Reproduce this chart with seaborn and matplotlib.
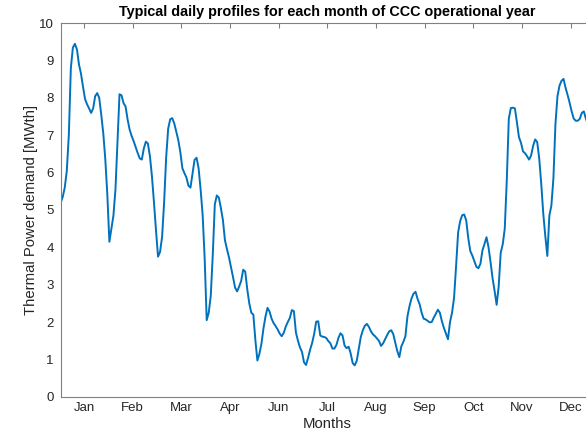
import numpy as np
import seaborn as sns
import matplotlib.pyplot as plt

# hourly thermal demand [MWth], one typical day per month
jan = [5.2, 5.35, 5.6, 6.05, 7.0, 8.8, 9.35, 9.45, 9.3, 8.9, 8.65, 8.3,
       7.97, 7.83, 7.72, 7.6, 7.72, 8.05, 8.13, 8.0, 7.55, 7.05, 6.35, 5.4]
feb = [4.15, 4.5, 4.85, 5.55, 6.8, 8.1, 8.07, 7.86, 7.77, 7.42, 7.15, 6.98,
       6.84, 6.68, 6.52, 6.38, 6.35, 6.65, 6.83, 6.78, 6.44, 5.9, 5.2, 4.45]
mar = [3.75, 3.88, 4.28, 5.2, 6.4, 7.18, 7.43, 7.46, 7.32, 7.1, 6.87, 6.55,
       6.12, 5.99, 5.87, 5.65, 5.6, 5.98, 6.34, 6.4, 6.12, 5.55, 4.87, 3.7]
apr = [2.05, 2.25, 2.7, 3.8, 5.15, 5.39, 5.33, 5.05, 4.73, 4.19, 3.95, 3.73,
       3.47, 3.2, 2.92, 2.82, 2.95, 3.1, 3.4, 3.35, 2.88, 2.5, 2.25, 2.2]
may = [1.52, 0.97, 1.15, 1.42, 1.83, 2.15, 2.38, 2.28, 2.09, 1.97, 1.89, 1.8,
       1.69, 1.62, 1.71, 1.88, 2.0, 2.11, 2.32, 2.29, 1.72, 1.5, 1.32, 1.2]
jun = [0.92, 0.85, 1.04, 1.26, 1.44, 1.68, 2.01, 2.02, 1.64, 1.61, 1.6, 1.57,
       1.49, 1.43, 1.29, 1.29, 1.39, 1.58, 1.7, 1.64, 1.37, 1.3, 1.34, 1.16]
jul = [0.9, 0.84, 0.96, 1.28, 1.6, 1.78, 1.9, 1.95, 1.87, 1.75, 1.67, 1.62,
       1.56, 1.49, 1.36, 1.43, 1.54, 1.65, 1.75, 1.78, 1.68, 1.45, 1.22, 1.06]
aug = [1.35, 1.47, 1.62, 2.15, 2.42, 2.63, 2.76, 2.81, 2.62, 2.48, 2.25, 2.09,
       2.07, 2.03, 1.99, 2.0, 2.12, 2.22, 2.33, 2.25, 2.02, 1.84, 1.69, 1.54]
sep = [2.0, 2.25, 2.65, 3.5, 4.4, 4.7, 4.86, 4.88, 4.72, 4.25, 3.9, 3.78,
       3.63, 3.48, 3.44, 3.56, 3.92, 4.09, 4.27, 4.0, 3.6, 3.17, 2.83, 2.46]
oct_ = [2.95, 3.85, 4.08, 4.5, 5.8, 7.45, 7.73, 7.74, 7.72, 7.35, 6.95, 6.8,
        6.57, 6.52, 6.44, 6.35, 6.46, 6.72, 6.89, 6.82, 6.38, 5.7, 4.9, 4.3]
nov = [3.77, 4.85, 5.12, 5.85, 7.3, 8.05, 8.33, 8.46, 8.51, 8.27, 8.08, 7.87,
       7.64, 7.45, 7.39, 7.39, 7.44, 7.6, 7.64, 7.45, 7.3]

month_labels = ["Jan", "Feb", "Mar", "Apr", "Jun", "Jul", "Aug", "Sep", "Oct", "Nov", "Dec"]

demand = jan + feb + mar + apr + may + jun + jul + aug + sep + oct_ + nov
hours = np.arange(len(demand))

sns.set_style("white")
plt.rcParams["font.family"] = ["Liberation Sans", "DejaVu Sans"]

fig = plt.figure(figsize=(5.86, 4.36), dpi=100)
ax = fig.add_axes([0.1036, 0.0901, 0.910, 0.8565])

sns.lineplot(x=hours, y=demand, color="#0072BD", linewidth=1.4, ax=ax)

ax.set_xlim(0, 263)
ax.set_ylim(0, 10)
ax.set_xticks(11.5 + 24 * np.arange(len(month_labels)))
ax.set_xticklabels(month_labels)
ax.set_yticks(range(0, 11))

txt = "#262626"
edge = "#808080"
for s in ax.spines.values():
    s.set_color(edge)
    s.set_linewidth(0.8)
ax.tick_params(axis="both", direction="in", length=3.5, width=0.8, color=edge,
               labelcolor=txt, labelsize=9.5, top=True, right=True)
ax.tick_params(axis="x", pad=4)
ax.tick_params(axis="y", pad=5)

ax.set_xlabel("Months", fontsize=10.7, color=txt, labelpad=2)
ax.set_ylabel("Thermal Power demand [MWth]", fontsize=10.7, color=txt, labelpad=0.5)
ax.set_title("Typical daily profiles for each month of CCC operational year",
             fontsize=10.4, fontweight="bold", color="black", pad=5)

fig.savefig("out.png", dpi=100)
